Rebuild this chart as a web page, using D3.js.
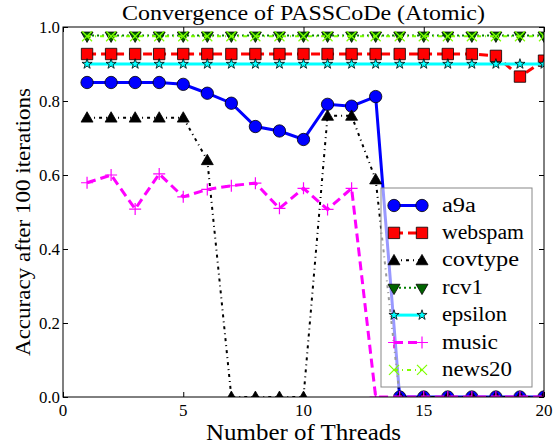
<!DOCTYPE html>
<html>
<head>
<meta charset="utf-8">
<script src="https://cdn.jsdelivr.net/npm/d3@7"></script>
<style>
  body { margin: 0; background: #fff; }
</style>
</head>
<body>
<div id="chart"></div>
<script>
// data
const threads = d3.range(1, 21)
const a9a     = [0.85, 0.85, 0.85, 0.85, 0.845, 0.821, 0.794, 0.731, 0.719, 0.696, 0.791, 0.786, 0.812, 0, 0, 0, 0, 0, 0, 0]
const webspam = [0.927, 0.927, 0.927, 0.927, 0.927, 0.927, 0.927, 0.927, 0.927, 0.927, 0.927, 0.927, 0.927, 0.927, 0.927, 0.927, 0.927, 0.922, 0.866, 0.909]
const covtype = [0.755, 0.755, 0.755, 0.755, 0.755, 0.64, 0, 0, 0, 0, 0.76, 0.76, 0.588, 0, 0, 0, 0, 0, 0, 0]
const rcv1    = [0.977, 0.977, 0.977, 0.977, 0.977, 0.977, 0.977, 0.977, 0.977, 0.977, 0.977, 0.977, 0.977, 0.977, 0.977, 0.977, 0.977, 0.977, 0.977, 0.977]
const epsilon = [0.9, 0.9, 0.9, 0.9, 0.9, 0.9, 0.9, 0.9, 0.9, 0.9, 0.9, 0.9, 0.9, 0.9, 0.9, 0.9, 0.9, 0.9, 0.9, 0.9]
const music   = [0.579, 0.6, 0.508, 0.603, 0.541, 0.561, 0.571, 0.578, 0.51, 0.564, 0.507, 0.564, 0, 0, 0, 0, 0, 0, 0, 0]
const news20  = [0.975, 0.975, 0.975, 0.975, 0.975, 0.975, 0.975, 0.975, 0.975, 0.975, 0.975, 0.975, 0.975, 0.975, 0.975, 0.975, 0.975, 0.975, 0.975, 0.975]
const xTicks = [0, 5, 10, 15, 20]
const yTicks = [0, 0.2, 0.4, 0.6, 0.8, 1.0]

const series = [
  {name: "a9a", values: a9a, color: "#0000ff", width: 3, dash: null, marker: "circle", fill: "#0000ff", stroke: "#000"},
  {name: "webspam", values: webspam, color: "#ff0000", width: 3, dash: "9,5", marker: "square", fill: "#ff0000", stroke: "#000"},
  {name: "covtype", values: covtype, color: "#000", width: 2, dash: "3,4,1,4", marker: "triangle", fill: "#000", stroke: "#000"},
  {name: "rcv1", values: rcv1, color: "#008000", width: 2, dash: "2,3", marker: "down", fill: "#006400", stroke: "#000"},
  {name: "epsilon", values: epsilon, color: "#00ffff", width: 3, dash: null, marker: "star", fill: "#00ffff", stroke: "#000"},
  {name: "music", values: music, color: "#ff00ff", width: 3, dash: "9,5", marker: "plus", fill: "none", stroke: "#ff00ff"},
  {name: "news20", values: news20, color: "#7fff00", width: 2, dash: "4,4,1,4", marker: "x", fill: "none", stroke: "#7fff00"}
]

const serif = "'Liberation Serif'"
const width = 558
const height = 444
const margin = {top: 27, right: 14, bottom: 47, left: 63}
const w = width - margin.left - margin.right
const h = height - margin.top - margin.bottom

const svg = d3.select("#chart").append("svg")
    .attr("width", width)
    .attr("height", height)
    .style("font-family", serif)

const g = svg.append("g")
    .attr("transform", "translate(" + margin.left + "," + margin.top + ")")

const x = d3.scaleLinear().domain([0, 20]).range([0, w])
const y = d3.scaleLinear().domain([0, 1]).range([h, 0])

svg.append("defs").append("clipPath").attr("id", "plot")
  .append("rect").attr("width", w).attr("height", h)

// axes, ticks pointing inward on all four sides (labels drawn separately)
g.append("g")
    .attr("transform", "translate(0," + h + ")")
    .call(d3.axisBottom(x).tickValues(xTicks).tickSize(-5).tickFormat(""))
g.append("g")
    .call(d3.axisTop(x).tickValues(xTicks).tickSize(-5).tickFormat(""))
g.append("g")
    .call(d3.axisLeft(y).tickValues(yTicks).tickSize(-5).tickFormat(""))
g.append("g")
    .attr("transform", "translate(" + w + ",0)")
    .call(d3.axisRight(y).tickValues(yTicks).tickSize(-5).tickFormat(""))
g.selectAll(".domain").remove()
g.selectAll(".tick line").attr("stroke", "#000")

// text helper: the text is set at 21px or more and scaled down by a transform
// when a smaller look is wanted (smaller sizes came out sans-serif here)
function label(px, py, str, size, anchor, len) {
  const fs = Math.max(size, 21)
  const k = size / fs
  const t = svg.append("text").attr("x", 0).attr("y", 0)
    .attr("transform", "translate(" + px + "," + py + ") scale(" + k + ")")
    .attr("text-anchor", anchor)
    .attr("font-family", "Liberation Serif")
    .style("font-family", serif).style("font-size", fs + "px")
    .text(str)
  if (len) t.attr("textLength", len / k).attr("lengthAdjust", "spacingAndGlyphs")
  return t
}

xTicks.forEach(v => label(margin.left + x(v), margin.top + h + 19, d3.format("d")(v), 17.5, "middle", v >= 10 ? 17 : 8.5))
yTicks.forEach(v => label(margin.left - 3, margin.top + y(v) + 6, d3.format(".1f")(v), 17.5, "end", 21))

function drawMarker(sel, s) {
  if (s.marker === "plus") {
    sel.append("path").attr("d", "M-6,0H6M0,-6V6")
      .attr("stroke", s.stroke).attr("stroke-width", 1.2).attr("fill", "none")
  } else if (s.marker === "x") {
    const r = 5
    sel.append("path").attr("d", `M${-r},${-r}L${r},${r}M${-r},${r}L${r},${-r}`)
      .attr("stroke", s.stroke).attr("stroke-width", 1.2).attr("fill", "none")
  } else {
    const types = {circle: d3.symbolCircle, square: d3.symbolSquare, triangle: d3.symbolTriangle, down: d3.symbolTriangle, star: d3.symbolStar}
    const areas = {circle: 120, square: 130, triangle: 62, down: 62, star: 32}
    sel.append("path")
      .attr("d", d3.symbol().type(types[s.marker]).size(areas[s.marker]))
      .attr("transform", s.marker === "down" ? "rotate(180)" : (s.marker === "triangle" ? "translate(0,1)" : null))
      .attr("fill", s.fill).attr("stroke", s.stroke).attr("stroke-width", 0.8)
  }
}

const plot = g.append("g").attr("clip-path", "url(#plot)")
const line = d3.line().x((d, i) => x(threads[i])).y(d => y(d))

series.forEach(s => {
  const sg = plot.append("g")
  sg.append("path")
    .datum(s.values)
    .attr("d", line)
    .attr("fill", "none")
    .attr("stroke", s.color)
    .attr("stroke-width", s.width)
    .attr("stroke-dasharray", s.dash)
  s.values.forEach((v, i) => {
    const m = sg.append("g").attr("transform", "translate(" + x(threads[i]) + "," + y(v) + ")")
    drawMarker(m, s)
  })
})

// frame
g.append("rect").attr("width", w).attr("height", h)
  .attr("fill", "none").attr("stroke", "#000").attr("stroke-width", 1)

// legend
const legX = 381, legY = 188
const lg = svg.append("g").attr("transform", "translate(" + legX + "," + legY + ")")
lg.append("rect").attr("width", 151).attr("height", 199)
  .attr("fill", "#fff").attr("fill-opacity", 0.6)
  .attr("stroke", "#888").attr("stroke-width", 1)
const legendLen = {a9a: 34, webspam: 82, covtype: 77, rcv1: 41, epsilon: 65, music: 56, news20: 70}
series.forEach((s, i) => {
  const ry = 17.5 + i * 27.4
  lg.append("line").attr("x1", 13).attr("x2", 41).attr("y1", ry).attr("y2", ry)
    .attr("stroke", s.color).attr("stroke-width", s.width).attr("stroke-dasharray", s.dash)
  drawMarker(lg.append("g").attr("transform", "translate(13," + ry + ")"), s)
  drawMarker(lg.append("g").attr("transform", "translate(41," + ry + ")"), s)
  label(legX + 61, legY + ry + 6, s.name, 20, "start", legendLen[s.name])
})

// titles
label(margin.left + w / 2, 20, "Convergence of PASSCoDe (Atomic)", 21, "middle", 363)
label(margin.left + w / 2, 440, "Number of Threads", 23, "middle", 195)
label(0, 0, "Accuracy after 100 iterations", 21, "middle", 268)
  .attr("transform", "translate(30,222) rotate(-90)")
</script>
</body>
</html>
